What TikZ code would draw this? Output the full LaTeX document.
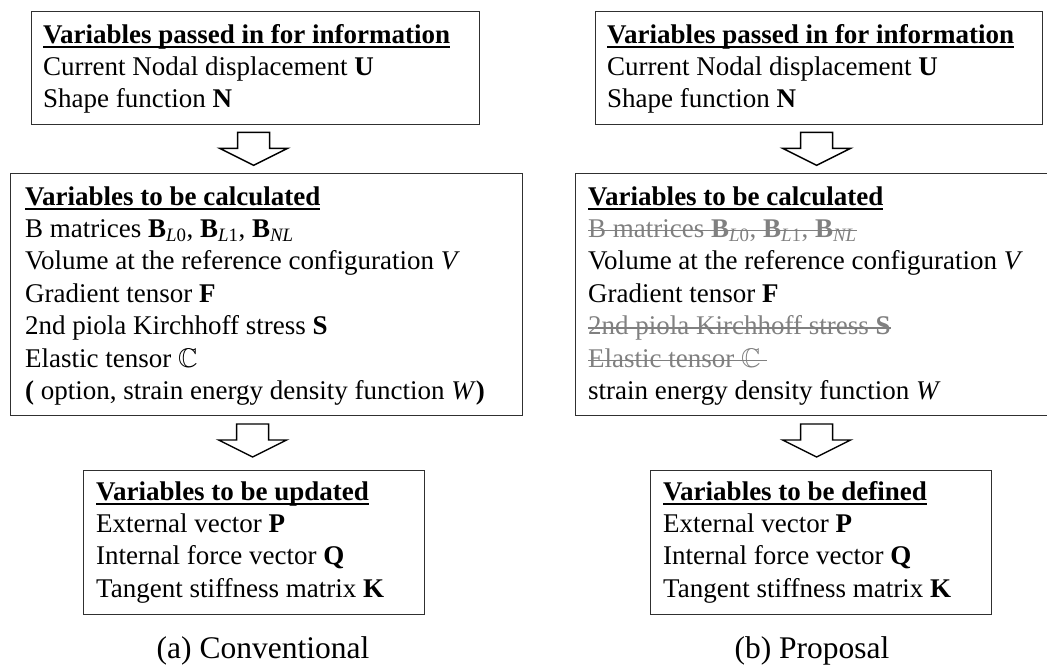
\documentclass[tikz,border=0pt]{standalone}
\usepackage{fontspec}
\setmainfont{Liberation Serif}
\usepackage{amssymb}
\usetikzlibrary{calc}
\definecolor{strikegray}{HTML}{808080}
\definecolor{boxline}{HTML}{303030}
\newcommand\ulin[1]{\leavevmode\setbox0=\hbox{#1}\rlap{\rule[-4.5pt]{\wd0}{1.4pt}}\box0}
\newcommand\strk[1]{\leavevmode{\color{strikegray}\setbox0=\hbox{#1}\rlap{\rule[6pt]{\wd0}{1.3pt}}\box0}}
\newcommand\sbs[1]{\textsubscript{#1}}
\begin{document}
\begin{tikzpicture}[x=1pt,y=-1pt,
  box/.style={draw=boxline, line width=1.3pt, inner sep=0pt, anchor=north west},
  txt/.style={anchor=base west, inner sep=0pt, font=\fontsize{27}{32.4}\selectfont},
  captxt/.style={anchor=base, inner sep=0pt, font=\fontsize{31.5}{36}\selectfont},
  blockarrow/.pic={\draw[draw=black, line width=1.4pt, line join=miter, fill=white]
     (-16,0) -- (16,0) -- (16,16) -- (34,16) -- (0,33) -- (-34,16) -- (-16,16) -- cycle;}]
\useasboundingbox (0,0) rectangle (1047,665);
\clip (0,0) rectangle (1047,665);

% ---------- left column ----------
\node[box, minimum width=448pt, minimum height=113pt] (L1) at (31,11) {};
\node[box, minimum width=512pt, minimum height=242pt] (L2) at (10,173) {};
\node[box, minimum width=341pt, minimum height=144pt] (L3) at (83,470) {};

\node[txt] (L1t) at (43,43) {\parbox[t]{430pt}{%
  \ulin{\textbf{Variables passed in for information}}\\
  Current Nodal displacement \textbf{U}\\
  Shape function \textbf{N}}};

\node[txt] (L2t) at (25,205) {\parbox[t]{495pt}{%
  \ulin{\textbf{Variables to be calculated}}\\
  B matrices \textbf{B}\sbs{\textit{L}0}, \textbf{B}\sbs{\textit{L}1}, \textbf{B}\sbs{\textit{NL}}\\
  Volume at the reference configuration \textit{V}\\
  Gradient tensor \textbf{F}\\
  2nd piola Kirchhoff stress \textbf{S}\\
  Elastic tensor $\mathbb{C}$\\
  \textbf{(} option, strain energy density function \textit{W}\textbf{)}}};

\node[txt] (L3t) at (96,500) {\parbox[t]{320pt}{%
  \ulin{\textbf{Variables to be updated}}\\
  External vector \textbf{P}\\
  Internal force vector \textbf{Q}\\
  Tangent stiffness matrix \textbf{K}}};

\pic (La1) at ($(L1.south)+(-2,7)$) {blockarrow};
\pic (La2) at ($(L3.north)+(-1.5,-46)$) {blockarrow};

\node[captxt] (capa) at (263,658) {(a) Conventional};

% ---------- right column ----------
\node[box, minimum width=447pt, minimum height=113pt] (R1) at (595,11) {};
\node[box, minimum width=490pt, minimum height=242pt] (R2) at (575,173) {};
\node[box, minimum width=341pt, minimum height=144pt] (R3) at (650,470) {};

\node[txt] (R1t) at (607,43) {\parbox[t]{430pt}{%
  \ulin{\textbf{Variables passed in for information}}\\
  Current Nodal displacement \textbf{U}\\
  Shape function \textbf{N}}};

\node[txt] (R2t) at (588,205) {\parbox[t]{455pt}{%
  \ulin{\textbf{Variables to be calculated}}\\
  \strk{B matrices \textbf{B}\sbs{\textit{L}0}, \textbf{B}\sbs{\textit{L}1}, \textbf{B}\sbs{\textit{NL}}}\\
  Volume at the reference configuration \textit{V}\\
  Gradient tensor \textbf{F}\\
  \strk{2nd piola Kirchhoff stress \textbf{S}}\\
  \strk{Elastic tensor $\mathbb{C}$\ }\\
  strain energy density function \textit{W}}};

\node[txt] (R3t) at (663,500) {\parbox[t]{320pt}{%
  \ulin{\textbf{Variables to be defined}}\\
  External vector \textbf{P}\\
  Internal force vector \textbf{Q}\\
  Tangent stiffness matrix \textbf{K}}};

\pic (Ra1) at ($(R1.south)+(-2.5,7)$) {blockarrow};
\pic (Ra2) at ($(R3.north)+(-4.5,-46)$) {blockarrow};

\node[captxt] (capb) at (812,658) {(b) Proposal};
\end{tikzpicture}
\end{document}
